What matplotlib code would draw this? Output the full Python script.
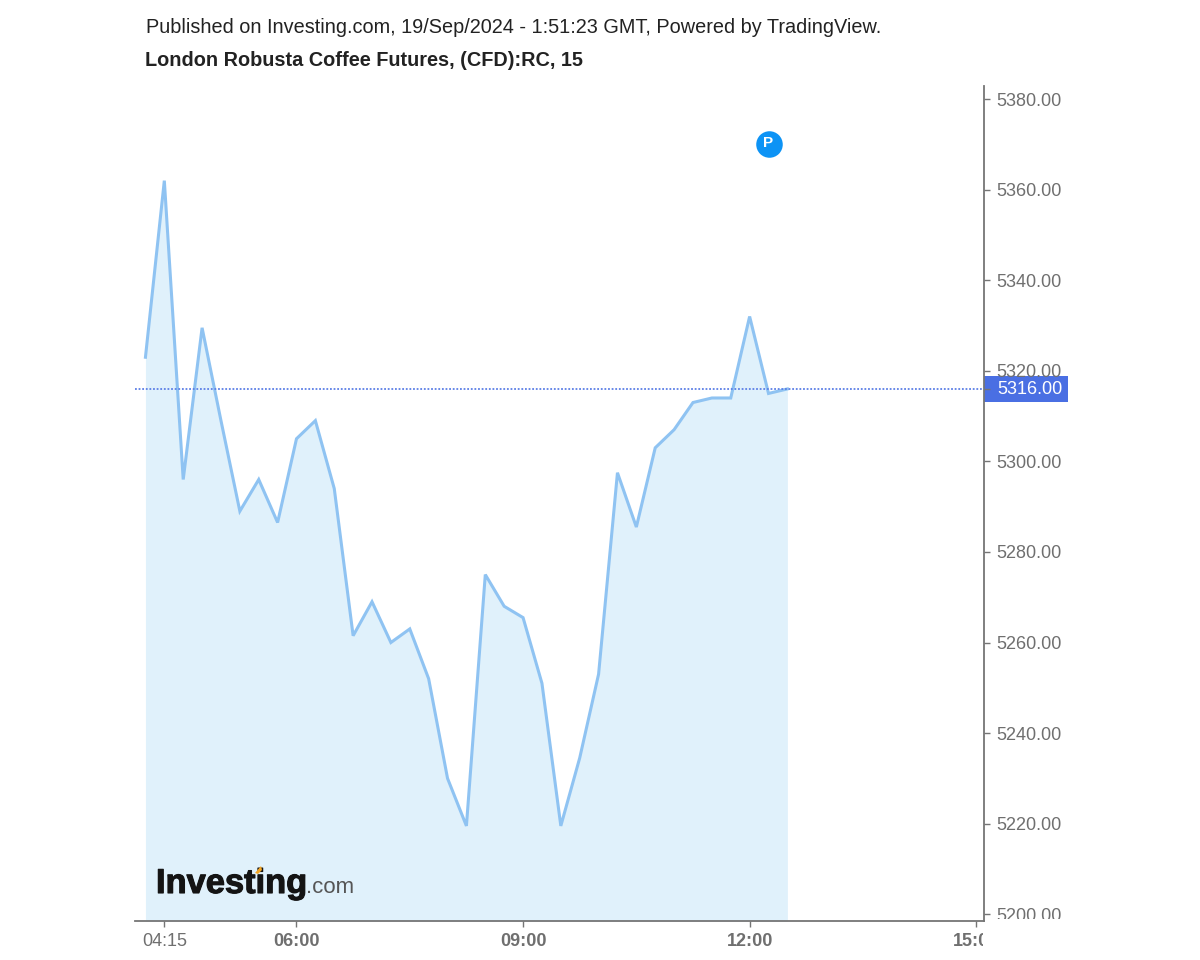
import matplotlib
matplotlib.use('Agg')
import matplotlib.pyplot as plt
import matplotlib.patheffects as pe
import pandas as pd
from matplotlib.patches import Polygon, Rectangle

plt.rcParams['font.family'] = ['Liberation Sans', 'DejaVu Sans']

# ── Data ──────────────────────────────────────────────────────────────────────

times = ['04:00', '04:15', '04:30', '04:45', '05:00', '05:15', '05:30',
         '05:45', '06:00', '06:15', '06:30', '06:45', '07:00', '07:15',
         '07:30', '07:45', '08:00', '08:15', '08:30', '08:45', '09:00',
         '09:15', '09:30', '09:45', '10:00', '10:15', '10:30', '10:45',
         '11:00', '11:15', '11:30', '11:45', '12:00', '12:15', '12:30']
prices = [5323, 5362, 5296, 5329.5, 5309, 5289, 5296, 5286.5, 5305, 5309,
          5294, 5261.5, 5269, 5260, 5263, 5252, 5230, 5219.5, 5275, 5268,
          5265.5, 5251, 5219.5, 5234.5, 5253, 5297.5, 5285.5, 5303, 5307,
          5313, 5314, 5314, 5332, 5315, 5316]
last_price = 5316
y_ticks = [5200, 5220, 5240, 5260, 5280, 5300, 5320, 5340, 5360, 5380]
x_tick_labels = ['04:15', '06:00', '09:00', '12:00', '15:00']
marker_time = '12:15'
marker_price = 5370


def to_minutes(labels):
    t = pd.to_datetime(pd.Series(labels), format='%H:%M')
    return (t.dt.hour * 60 + t.dt.minute).to_numpy()


W, H = 1200, 960


def fx(px):
    return px / W


def fy(py):
    return 1 - py / H


x = to_minutes(times)
x_ticks = to_minutes(x_tick_labels)

fig = plt.figure(figsize=(W / 100, H / 100), dpi=100, facecolor='white')
ax = fig.add_axes([fx(135), fy(921), fx(984 - 135), (921 - 86) / H])

ax.set_xlim(240 - 8.3, 240 + 666.2)
ax.set_ylim(5198.5, 5382.9)

# ── Series ────────────────────────────────────────────────────────────────────

ax.fill_between(x, prices, 5198.5, color='#e0f1fb', linewidth=0, zorder=1)
ax.plot(x, prices, color='#8fc3f2', linewidth=2.2, zorder=3,
        solid_joinstyle='miter')
ax.axhline(last_price, color='#5c7fe6', linewidth=1.3, linestyle=(0, (1, 1)),
           zorder=4)
ax.scatter(to_minutes([marker_time]), [marker_price], s=365, color='#0d93f5',
           linewidth=0, zorder=5)
ax.text(to_minutes([marker_time])[0], marker_price + 0.3, 'P', color='white',
        fontsize=11, fontweight='bold', ha='center', va='center', zorder=6)

# ── Axes ──────────────────────────────────────────────────────────────────────

ax.spines[['top', 'left']].set_visible(False)
ax.spines[['bottom', 'right']].set_color('#757575')
ax.spines[['bottom', 'right']].set_linewidth(1.3)

ax.yaxis.tick_right()
ax.set_yticks(y_ticks + [last_price])
ax.set_yticklabels([f'{v:.2f}' for v in y_ticks] + [''])
ax.tick_params(axis='y', length=4, width=1, color='#757575', pad=5,
               labelsize=13, labelcolor='#6f6f6f')
ax.yaxis.get_major_ticks()[-1].tick2line.set_color('white')
ax.set_xticks(x_ticks)
ax.set_xticklabels(x_tick_labels)
ax.tick_params(axis='x', length=4, width=1, color='#757575', pad=5,
               labelsize=13, labelcolor='#6f6f6f')
for lab in ax.get_xticklabels()[1:]:
    lab.set_fontweight('bold')

# The x and y labels are cut off at the edges of the chart pane
for lab in ax.get_xticklabels():
    lab.set_clip_on(True)
    lab.set_clip_path(Rectangle((0, 0), fx(983), 1, transform=fig.transFigure))
for lab in ax.get_yticklabels():
    lab.set_clip_on(True)
    lab.set_clip_path(Rectangle((0, fy(919)), 1, 1, transform=fig.transFigure))

# Last price tag
fig.add_artist(Rectangle((fx(984), fy(402.5)), fx(84), 26.5 / H,
                         transform=fig.transFigure, color='#4a6fe3',
                         linewidth=0, zorder=-1))
fig.text(fx(997), fy(390), f'{last_price:.2f}', color='white', fontsize=13,
         va='center', ha='left')

# ── Header and logo ───────────────────────────────────────────────────────────

fig.text(fx(146), fy(27.5),
         'Published on Investing.com, 19/Sep/2024 - 1:51:23 GMT, '
         'Powered by TradingView.',
         fontsize=14.27, color='#222222', va='center', ha='left')
fig.text(fx(145), fy(61), 'London Robusta Coffee Futures, (CFD):RC, 15',
         fontsize=14.3, fontweight='bold', color='#222222', va='center',
         ha='left')

logo = fig.text(fx(156), fy(893), 'Investing', fontsize=24.8,
                fontweight='bold', color='#141414', va='baseline', ha='left',
                zorder=8)
logo.set_path_effects([pe.withStroke(linewidth=0.8, foreground='#141414')])
fig.text(fx(306), fy(893), '.com', fontsize=16, color='#555555',
         va='baseline', ha='left', zorder=8)
fig.add_artist(Polygon([(fx(255), fy(873)), (fx(261), fy(866)),
                        (fx(262), fy(870)), (fx(258), fy(874))],
                       transform=fig.transFigure, color='#f5a623',
                       linewidth=0, zorder=9))

fig.savefig('out.png', dpi=100)
